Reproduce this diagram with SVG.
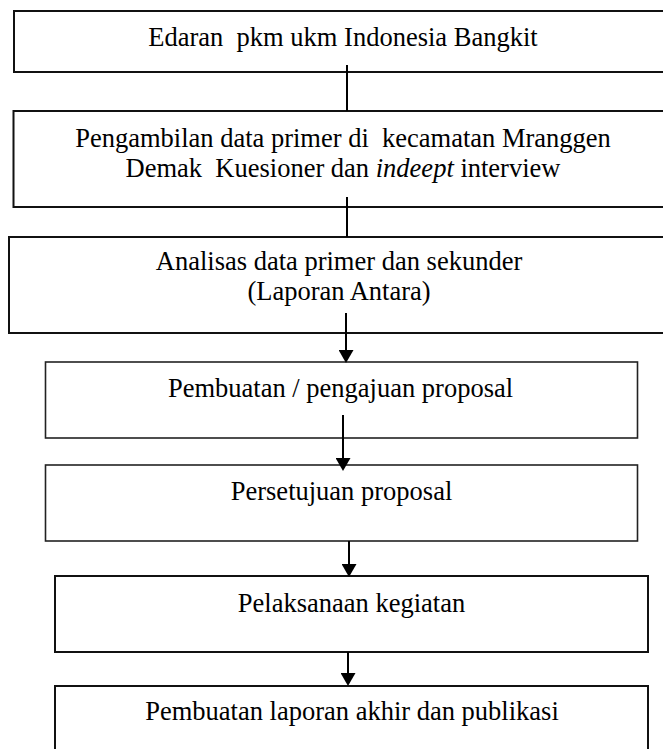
<svg xmlns="http://www.w3.org/2000/svg" width="663" height="749" viewBox="0 0 663 749">
  <defs>
    <style>
      .box { fill: #ffffff; stroke: #111111; stroke-width: 2; }
      .box.thin { stroke: #222222; stroke-width: 1.6; }
      .lbl { font-family: "Liberation Serif", "Times New Roman", serif; font-size: 26.5px; fill: #000000; text-anchor: middle; white-space: pre; }
      .conn { stroke: #000000; stroke-width: 2; fill: none; }
    </style>
    <marker id="arrow" viewBox="0 0 13 15" refX="0" refY="7.5" markerWidth="13" markerHeight="15" markerUnits="userSpaceOnUse" orient="auto">
      <path d="M0,0 L13,7.5 L0,15 Z" fill="#000000"/>
    </marker>
  </defs>

  <g id="node1">
    <rect class="box" x="14" y="11" width="660" height="61"/>
    <text class="lbl" x="343" y="46" xml:space="preserve">Edaran  pkm ukm Indonesia Bangkit</text>
  </g>

  <g id="node2">
    <rect class="box" x="13.5" y="111" width="660" height="96"/>
    <text class="lbl" x="343" y="147" xml:space="preserve">Pengambilan data primer di  kecamatan Mranggen</text>
    <text class="lbl" x="343" y="177" xml:space="preserve">Demak  Kuesioner dan <tspan font-style="italic">indeept</tspan> interview</text>
  </g>

  <g id="node3">
    <rect class="box" x="9" y="237" width="665" height="96"/>
    <text class="lbl" x="339" y="270">Analisas data primer dan sekunder</text>
    <text class="lbl" x="339" y="300">(Laporan Antara)</text>
  </g>

  <g id="node4">
    <rect class="box thin" x="45.5" y="362" width="592" height="76"/>
    <text class="lbl" x="340.5" y="397">Pembuatan / pengajuan proposal</text>
  </g>

  <g id="node5">
    <rect class="box thin" x="45.5" y="465" width="592" height="76"/>
    <text class="lbl" x="341.5" y="500">Persetujuan proposal</text>
  </g>

  <g id="node6">
    <rect class="box" x="55" y="576" width="593" height="76"/>
    <text class="lbl" x="351.5" y="612">Pelaksanaan kegiatan</text>
  </g>

  <g id="node7">
    <rect class="box" x="55" y="686" width="593" height="80"/>
    <text class="lbl" x="352" y="720">Pembuatan laporan akhir dan publikasi</text>
  </g>

  <g id="connectors">
    <line class="conn" x1="347" y1="65" x2="347" y2="111"/>
    <line class="conn" x1="347" y1="197" x2="347" y2="237"/>
    <line class="conn" x1="346" y1="313" x2="346" y2="350" marker-end="url(#arrow)"/>
    <line class="conn" x1="343" y1="415" x2="343" y2="458" marker-end="url(#arrow)"/>
    <line class="conn" x1="349" y1="541" x2="349" y2="564" marker-end="url(#arrow)"/>
    <line class="conn" x1="348" y1="652" x2="348" y2="673" marker-end="url(#arrow)"/>
  </g>
</svg>
